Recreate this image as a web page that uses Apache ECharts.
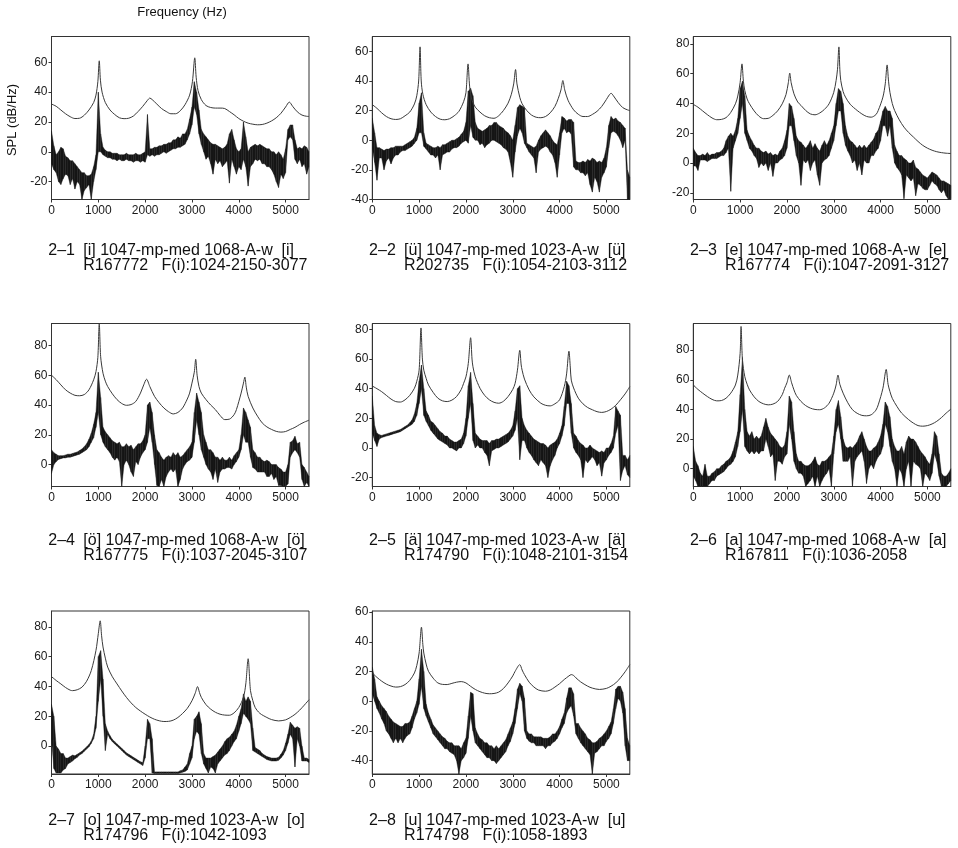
<!DOCTYPE html>
<html>
<head>
<meta charset="utf-8">
<script src="https://cdn.jsdelivr.net/npm/echarts@6/dist/echarts.min.js"></script>
<style>
  html, body { margin: 0; padding: 0; background: #fff; }
  #chart { width: 958px; height: 848px; }
</style>
</head>
<body>
<div id="chart"></div>
<script>
// ---------------------------------------------------------------------------
// Spectra of eight sung vowels (SPL in dB/Hz versus frequency in Hz).
// envN  : smooth spectral envelope, [frequency Hz, level dB] pairs.
// specN : measured spectrum, one [min dB, max dB] pair per 50 Hz bin, 0..5500 Hz.
// ---------------------------------------------------------------------------
const BIN_HZ = 50;

const panelCodes = ['2–1', '2–2', '2–3', '2–4', '2–5', '2–6', '2–7', '2–8'];
const captionLine1 = [
  '[i] 1047-mp-med 1068-A-w  [i]',
  '[ü] 1047-mp-med 1023-A-w  [ü]',
  '[e] 1047-mp-med 1068-A-w  [e]',
  '[ö] 1047-mp-med 1068-A-w  [ö]',
  '[ä] 1047-mp-med 1023-A-w  [ä]',
  '[a] 1047-mp-med 1068-A-w  [a]',
  '[o] 1047-mp-med 1023-A-w  [o]',
  '[u] 1047-mp-med 1023-A-w  [u]'
];
const captionLine2 = [
  'R167772   F(i):1024-2150-3077',
  'R202735   F(i):1054-2103-3112',
  'R167774   F(i):1047-2091-3127',
  'R167775   F(i):1037-2045-3107',
  'R174790   F(i):1048-2101-3154',
  'R167811   F(i):1036-2058',
  'R174796   F(i):1042-1093',
  'R174798   F(i):1058-1893'
];

const xTicks = [0, 1000, 2000, 3000, 4000, 5000];
const yTicks = [
  [-20, 0, 20, 40, 60],
  [-40, -20, 0, 20, 40, 60],
  [-20, 0, 20, 40, 60, 80],
  [0, 20, 40, 60, 80],
  [-20, 0, 20, 40, 60, 80],
  [0, 20, 40, 60, 80],
  [0, 20, 40, 60, 80],
  [-40, -20, 0, 20, 40, 60]
];
const yRange = [
  [-32, 77.3], [-40, 70], [-24.5, 85],
  [-14.7, 94.7], [-26, 84], [-12, 98],
  [-18.7, 90.6], [-49, 60.7]
];

// ---- envelopes ----
const env1 = [[0,32],[100,30.5],[200,28],[300,25.5],[400,23.5],[500,22.3],[600,22.5],[700,24.5],[800,28],[900,33],[950,38],[990,47],[1020,61],[1045,48],[1080,40],[1150,33],[1250,28],[1350,25],[1450,22.8],[1550,22.2],[1650,22.5],[1750,24],[1850,27],[1950,30.5],[2050,34.5],[2100,36],[2150,35],[2250,32],[2350,29],[2450,27],[2550,25.5],[2650,25.5],[2750,27.5],[2850,31.5],[2950,38],[3010,47],[3060,63],[3090,50],[3130,41],[3200,35],[3300,31],[3400,29.7],[3500,29.3],[3600,29.3],[3700,29],[3800,27],[3900,24.8],[4000,22.3],[4100,20.5],[4200,19.2],[4300,18.5],[4400,18.1],[4500,18.3],[4600,19.2],[4700,20.7],[4800,22.8],[4900,25.8],[5000,30],[5080,33.3],[5150,30.5],[5250,26.8],[5350,24.6],[5450,23.8],[5500,23.7]];
const env2 = [[0,24],[100,21.5],[200,18.5],[300,16],[400,14.5],[500,14],[600,14.5],[700,16.5],[800,19],[900,24.5],[950,30],[990,40],[1020,63],[1045,40],[1080,31],[1150,24],[1250,19],[1350,16],[1450,14.2],[1550,13.8],[1650,14.5],[1750,16.5],[1850,19.5],[1950,26],[2000,32],[2045,51.5],[2080,36],[2130,27],[2200,22.3],[2300,19],[2400,16.5],[2500,15.2],[2600,14.8],[2700,16.5],[2800,20],[2900,25],[2970,31],[3020,38],[3060,47.7],[3090,38],[3150,29],[3200,24.6],[3300,20],[3400,17],[3500,15.5],[3600,15.2],[3700,16],[3800,18.5],[3900,22.8],[3970,28],[4030,34],[4070,40.3],[4110,34],[4180,27],[4300,20.5],[4400,17.5],[4500,16],[4600,16],[4700,17.4],[4800,19.5],[4900,22.8],[5000,27.5],[5060,30.5],[5100,31.7],[5150,30],[5250,25.5],[5350,22],[5450,20.5],[5500,20]];
const env3 = [[0,39.4],[100,37.5],[200,35],[300,32.5],[400,30.3],[500,29.1],[600,29.3],[700,30.5],[800,34],[900,39.8],[950,45],[1000,54],[1040,66.6],[1070,55],[1100,48.7],[1150,43],[1200,39.8],[1300,35],[1400,31.5],[1500,29.8],[1600,30],[1700,32],[1800,35],[1900,39.8],[1980,46],[2030,54],[2060,60.4],[2090,54],[2150,46.5],[2230,41],[2300,38.7],[2400,35.3],[2500,33],[2600,32.4],[2700,33.6],[2800,36],[2900,39.8],[3000,47.5],[3050,55.4],[3080,63],[3110,78],[3130,63],[3150,55.4],[3200,48],[3250,44.3],[3350,39.5],[3500,35.3],[3600,33],[3700,31.3],[3800,30.8],[3900,32.5],[3950,35.3],[4050,44.3],[4100,53.2],[4140,65.9],[4170,55],[4200,47.5],[4250,40],[4300,35.3],[4400,29],[4500,24.1],[4600,20.5],[4700,17.5],[4800,14.5],[4900,11.9],[5000,10],[5100,8.6],[5200,7.6],[5300,7],[5400,6.6],[5500,6.4]];
const env4 = [[0,60],[100,57],[200,53.5],[300,50.2],[400,48],[500,46.5],[600,46.2],[700,47],[800,50.2],[900,56.9],[950,62.4],[990,72],[1020,94.7],[1050,72.4],[1100,61.3],[1150,56],[1200,52.4],[1300,47.5],[1400,43.6],[1500,41],[1600,39.8],[1700,40.3],[1800,42.4],[1900,48],[1970,53.5],[2030,57.3],[2100,52.4],[2200,45.8],[2300,41.5],[2400,38],[2500,35.5],[2600,34],[2700,35],[2800,38],[2900,44],[2950,48],[3000,54.7],[3050,62],[3080,70.7],[3110,60],[3150,52.4],[3200,48],[3300,43.6],[3400,40],[3500,36.9],[3600,33],[3700,30.2],[3800,30.5],[3900,33.5],[3950,36.9],[4050,48],[4100,54.7],[4130,58.7],[4160,52],[4200,45.8],[4300,38],[4400,32.5],[4500,28],[4600,25.3],[4700,23.6],[4800,22.3],[4900,21.8],[5000,22.2],[5100,23.6],[5200,25],[5300,26.9],[5400,28.5],[5500,29.8]];
const env5 = [[0,41.8],[100,40],[200,38],[300,35.5],[400,33],[500,31.3],[600,31],[700,32.5],[800,35.5],[900,40.3],[950,45],[1000,52.5],[1040,81],[1070,60],[1100,52.5],[1150,47],[1200,42.5],[1300,37.5],[1400,33.6],[1500,31.8],[1600,31.3],[1700,32.3],[1800,34.7],[1900,39.5],[1950,43.6],[2000,48],[2050,57],[2100,74.4],[2130,60],[2150,54.8],[2200,48],[2300,40.3],[2400,35.5],[2500,32.5],[2600,30.8],[2700,30.2],[2800,31.5],[2900,34.7],[3000,39.5],[3050,43.6],[3100,52.5],[3150,65.9],[3180,56],[3200,52.5],[3250,46.5],[3350,39.2],[3450,34.5],[3600,30.2],[3700,28.8],[3800,28.4],[3900,29.8],[4000,32.5],[4100,41.4],[4150,50],[4200,65.3],[4230,54],[4250,45.8],[4300,40.5],[4400,33.6],[4500,29.8],[4600,27.3],[4700,25.8],[4800,24.5],[4900,24],[5000,24.6],[5100,26.2],[5200,28.8],[5300,32.5],[5400,36.5],[5500,41.4]];
const env6 = [[0,56.5],[100,53.5],[200,51],[300,48.7],[400,46.8],[500,45.8],[600,46],[700,47.6],[800,51],[900,56.5],[950,63.2],[1000,77.8],[1020,96],[1050,73.3],[1100,62.1],[1150,57],[1200,53.2],[1300,48.5],[1400,45.4],[1500,43.8],[1600,43.1],[1700,43.6],[1800,45.4],[1900,50],[1950,54.3],[2000,58],[2050,63.2],[2100,58],[2150,53.2],[2200,49.5],[2300,45.4],[2400,42.6],[2500,40.9],[2600,40],[2700,39.8],[2800,41],[2900,44.2],[3000,51],[3050,56.5],[3090,63.2],[3130,57],[3200,51],[3300,44.5],[3400,39.8],[3500,37.4],[3600,36],[3700,35.7],[3800,36.4],[3900,39.5],[3950,43.1],[4050,54.3],[4120,67],[4160,57],[4200,52.1],[4250,47.5],[4350,42],[4450,37.5],[4600,33.1],[4700,30.8],[4800,29.1],[4900,28.7],[5000,29.1],[5100,30.2],[5200,32],[5300,34.5],[5400,37.5],[5500,40.2]];
const env7 = [[0,46.6],[100,44],[200,41.7],[300,39.3],[400,37.5],[450,37.2],[550,37.8],[650,39.5],[750,43.5],[850,50.7],[950,64.2],[1000,75.5],[1040,84],[1070,74],[1100,66.5],[1150,59],[1200,53],[1300,46.5],[1400,41.7],[1500,37],[1600,32.7],[1700,29],[1800,25.9],[1900,23.5],[2000,21.4],[2100,19.5],[2200,18],[2300,17],[2400,16.5],[2500,16.6],[2600,17.4],[2700,19.2],[2800,21.9],[2900,25.3],[3000,30.4],[3070,35.5],[3120,39.9],[3160,36],[3200,32.7],[3300,27.8],[3400,24.8],[3500,22.7],[3600,21.4],[3700,20.8],[3800,20.7],[3900,22.3],[4000,25.9],[4100,32.7],[4150,41.7],[4200,58.6],[4250,37.2],[4300,30.5],[4350,25.9],[4450,22],[4600,19.2],[4700,17.8],[4850,16.9],[5000,17.6],[5100,19.2],[5200,21.3],[5300,24.1],[5400,27.5],[5500,31.1]];
const env8 = [[0,19],[100,16],[200,13.5],[300,11.5],[400,10.2],[500,9.5],[600,9.8],[700,11.2],[800,14],[900,19],[950,24],[1000,32.4],[1050,49.8],[1080,38],[1100,32.4],[1150,25],[1200,20.1],[1300,15.5],[1400,12.3],[1500,11.3],[1600,11.2],[1700,12],[1800,12.8],[1900,13.2],[2000,12.3],[2100,10],[2200,7.9],[2300,6.4],[2400,5.4],[2500,5],[2600,5.2],[2700,6.1],[2800,8.5],[2900,12.3],[3000,17],[3050,20.1],[3150,24.6],[3200,21],[3250,17.9],[3350,12.8],[3450,9.6],[3550,7.5],[3700,6.7],[3800,7.5],[3900,9.5],[4000,11.8],[4100,14.6],[4200,17],[4250,17.9],[4300,17.3],[4350,15.7],[4450,13],[4600,10.1],[4700,8.8],[4850,7.9],[5000,8.6],[5100,10.1],[5200,12.3],[5300,15.7],[5400,19.8],[5500,24.6]];

// ---- measured spectra: [min, max] per 50 Hz bin, 10 bins per row ----
const spec1 = [
  [-8,14],[-12,4],[-14,-2],[-20,0],[-22,3],[-18,2],[-15,-3],[-16,-4],[-22,-6],[-18,-6],
  [-25,-8],[-20,-10],[-22,-12],[-32,-14],[-26,-14],[-24,-16],[-22,-16],[-32,-15],[-20,-10],[-12,-2],
  [0,40],[0,12],[-2,3],[-3,1],[-4,0],[-4,0],[-5,-1],[-5,-1],[-6,-1],[-5,-2],
  [-6,-2],[-6,-2],[-5,-1],[-6,-2],[-6,-2],[-7,-2],[-6,-1],[-6,-2],[-7,-2],[-6,-1],
  [-7,0],[-2,25],[-3,2],[-2,2],[-3,3],[-2,3],[-2,4],[-1,4],[0,5],[-1,5],
  [0,6],[1,6],[2,8],[2,8],[3,10],[3,9],[4,12],[5,12],[8,15],[12,22],
  [18,30],[30,47],[25,40],[12,28],[5,15],[0,12],[-5,10],[-3,8],[-8,6],[-15,5],
  [-5,5],[-8,4],[-6,3],[-10,2],[-8,3],[-6,5],[-21,12],[-5,15],[-10,8],[-15,2],
  [-10,0],[-12,2],[-5,20],[-10,10],[-23,0],[-10,3],[-8,4],[-5,5],[-6,4],[-5,5],
  [-8,4],[-8,3],[-10,2],[-10,2],[-12,0],[-15,0],[-20,-2],[-24,0],[-15,-2],[-18,-5],
  [-14,2],[8,15],[10,18],[8,18],[-5,8],[-8,2],[-5,3],[-10,2],[-8,4],[-15,3],[-10,0]
];
const spec2 = [
  [-5,15],[-15,5],[-27,-5],[-12,-5],[-12,-6],[-20,-7],[-14,-6],[-12,-6],[-16,-5],[-12,-5],
  [-10,-4],[-10,-4],[-8,-4],[-7,-4],[-7,-3],[-6,-2],[-5,-1],[-4,0],[-2,2],[0,8],
  [5,25],[5,32],[-4,5],[-6,-2],[-8,-3],[-10,-4],[-10,-5],[-12,-5],[-10,-4],[-20,-5],
  [-10,-3],[-9,-3],[-8,-2],[-8,-1],[-6,0],[-5,0],[-5,1],[-4,2],[-2,4],[-1,6],
  [0,12],[-2,33],[10,35],[2,30],[0,12],[0,8],[-3,7],[-2,6],[-5,7],[-3,8],
  [-2,10],[0,10],[0,12],[-1,12],[-2,10],[-3,9],[-5,8],[-6,6],[-8,5],[-15,3],
  [-25,0],[-8,10],[3,22],[8,24],[5,23],[-2,22],[-5,-2],[-8,-3],[-10,-4],[-12,-5],
  [-22,-4],[-8,0],[-6,3],[-5,5],[-4,7],[-5,5],[-8,3],[-10,0],[-15,-2],[-25,-3],
  [-10,5],[5,16],[8,15],[5,13],[6,14],[4,14],[-18,12],[-20,-14],[-20,-15],[-22,-15],
  [-22,-14],[-24,-15],[-22,-13],[-30,-14],[-35,-12],[-25,-13],[-28,-15],[-35,-14],[-25,-15],[-22,-12],
  [-18,-5],[-5,10],[5,16],[6,14],[5,15],[3,13],[0,12],[-5,10],[0,8],[-40,-20],[-40,-25]
];
const spec3 = [
  [-2,10],[-2,7],[-5,5],[2,5],[2,6],[2,5],[1,7],[2,5],[3,6],[3,6],
  [3,7],[4,7],[5,8],[5,10],[7,15],[10,18],[-19,20],[10,18],[15,22],[20,30],
  [30,50],[40,55],[20,45],[15,22],[10,18],[8,15],[5,12],[3,10],[-3,10],[0,8],
  [-2,7],[0,8],[-5,6],[0,7],[-9,5],[0,6],[0,5],[2,8],[3,10],[5,15],
  [10,22],[25,40],[25,38],[15,30],[5,18],[0,15],[-15,14],[2,12],[0,10],[2,12],
  [-5,15],[0,10],[2,13],[-8,10],[-15,8],[0,12],[2,15],[3,12],[5,15],[10,20],
  [15,25],[25,40],[35,50],[35,48],[20,40],[12,25],[8,18],[5,15],[0,14],[2,12],
  [-5,10],[0,12],[-8,10],[2,12],[0,10],[0,12],[5,14],[5,16],[8,20],[10,22],
  [15,28],[25,35],[25,38],[18,35],[25,35],[10,30],[0,12],[-3,8],[-5,5],[-8,5],
  [-24,3],[-8,2],[-10,0],[-12,0],[-10,2],[-22,-3],[-14,-4],[-15,-6],[-17,-8],[-18,-9],
  [-18,-10],[-15,-8],[-12,-6],[-14,-7],[-15,-8],[-18,-10],[-20,-12],[-18,-12],[-22,-13],[-25,-14],[-24,-15]
];
const spec4 = [
  [-6,10],[0,8],[2,7],[3.5,6],[4,6],[4.5,6],[4.5,6.5],[5,7],[5,7],[5.5,7.5],
  [6,8],[6.5,8.5],[7,9.5],[8,10.5],[9,12],[10,14],[12,17],[15,21],[18,27],[25,35],
  [35,62],[20,45],[15,25],[12,22],[10,20],[8,18],[5,16],[3,15],[5,14],[2,15],
  [-15,12],[0,12],[3,14],[0,12],[-5,13],[-8,10],[2,12],[0,14],[5,14],[8,16],
  [10,20],[15,40],[25,42],[15,35],[0,20],[-14,10],[-15,8],[-10,5],[-15,3],[-8,5],
  [-5,6],[-3,5],[-5,8],[-3,6],[-15,8],[-10,5],[-3,6],[0,8],[2,10],[3,12],
  [5,15],[15,35],[30,48],[20,42],[10,35],[5,20],[0,15],[-3,10],[-5,10],[-10,8],
  [-3,5],[-12,5],[-5,3],[-3,5],[-3,3],[-2,3],[-2,5],[-3,3],[0,6],[2,8],
  [5,10],[10,20],[20,38],[15,35],[15,30],[5,25],[-2,10],[-3,8],[-5,5],[-5,5],
  [-5,3],[-5,2],[-8,3],[-8,2],[-6,0],[-10,0],[-8,0],[-14,-2],[-14,-3],[-15,-5],
  [-15,-5],[-13,0],[5,15],[8,16],[10,19],[8,14],[5,15],[-10,0],[-15,-2],[-12,-5],[-15,-8]
];
const spec5 = [
  [10,35],[5,15],[1,10],[6,9],[7,8.5],[7.5,9],[8,9.5],[8.5,10],[9,10.5],[9.5,11],
  [10,11.5],[10.5,12],[11,12.5],[12,13.5],[13,14.5],[14,15.5],[15,17],[16,19],[18,23],[22,30],
  [30,45],[40,56],[22,40],[18,25],[15,22],[12,18],[10,17],[8,15],[6,13],[5,11],
  [4,10],[3,8],[2,8],[0,6],[0,5],[-1,4],[-2,4],[0,5],[0,6],[3,10],
  [8,20],[20,42],[30,51],[5,30],[0,10],[2,8],[0,6],[0,5],[-3,5],[-5,5],
  [-12,3],[-2,5],[-1,5],[0,6],[0,6],[1,7],[2,8],[3,9],[4,10],[6,12],
  [8,15],[12,25],[20,40],[-8,42],[5,20],[5,15],[0,12],[-3,10],[-5,8],[-8,6],
  [-10,5],[-12,4],[-8,3],[-10,3],[-12,2],[-20,0],[-12,2],[-8,3],[-5,4],[0,6],
  [3,10],[8,15],[15,28],[30,45],[30,42],[10,30],[0,10],[-3,8],[-5,5],[-8,3],
  [-20,2],[-8,0],[-10,0],[-8,2],[-6,0],[-8,-1],[-12,-2],[-10,-3],[-19,-2],[-10,-3],
  [-8,0],[-5,0],[-3,3],[0,8],[10,28],[15,25],[-22,22],[-15,-5],[-12,-5],[-18,-8],[-20,-5]
];
const spec6 = [
  [-5,15],[-8,5],[-12,2],[-12,-3],[-12,-5],[-12,3],[-12,-5],[-10,-5],[-8,-3],[-8,-2],
  [-5,0],[-4,0],[-3,2],[-2,3],[0,5],[2,6],[3,8],[5,12],[8,18],[15,25],
  [25,50],[40,75],[15,40],[12,25],[10,22],[12,25],[10,20],[12,22],[10,20],[12,22],
  [12,28],[20,34],[15,28],[8,24],[10,22],[-8,20],[5,18],[5,15],[3,14],[8,16],
  [10,25],[30,49],[20,45],[5,25],[0,10],[-3,5],[-3,5],[-5,3],[-12,2],[-10,2],
  [-8,3],[-5,5],[-12,8],[-5,3],[-12,2],[-8,5],[-5,5],[-3,6],[0,8],[-12,10],
  [10,22],[25,40],[30,46],[20,35],[5,20],[5,15],[5,14],[8,15],[-12,14],[5,16],
  [8,18],[10,22],[12,25],[5,20],[-10,15],[0,12],[3,12],[0,14],[5,15],[8,18],
  [10,22],[15,30],[30,45],[25,42],[15,35],[5,20],[0,15],[-12,12],[0,12],[-3,15],
  [-12,10],[0,18],[5,22],[-12,20],[5,20],[3,18],[2,15],[0,12],[-12,10],[-3,8],
  [-5,5],[-8,3],[-3,10],[10,25],[5,22],[-5,10],[-12,-3],[-12,-5],[-12,-5],[-10,-3],[-8,0]
];
const spec7 = [
  [5,28],[-15,20],[-18,0],[-18,-2],[-18,-5],[-16,-5],[-15,-8],[-12,-8],[-11,-7],[-10,-6],
  [-8.5,-6.5],[-7.5,-5.5],[-6,-4.5],[-5,-3.5],[-3.5,-2],[-2,-0.5],[-0.5,1],[2,3.5],[5,8],[12,20],
  [30,60],[45,64],[20,45],[-3,15],[8,10],[5,7],[3,4.5],[1.5,3],[0,1.5],[-1.5,0],
  [-3,-1.5],[-4.5,-3],[-6,-4.5],[-7,-5.5],[-8,-6.5],[-9,-7.5],[-10,-8.5],[-11,-9.5],[-12,-10.5],[-13,-11],
  [-8,0],[5,18],[5,15],[-18,5],[-18.3,-17.3],[-18.3,-17.3],[-18.3,-17.3],[-18.3,-17.3],[-18.3,-17.3],[-18.3,-17.3],
  [-18.3,-17.3],[-18.3,-17.3],[-18.3,-17.3],[-18.3,-17.3],[-18.3,-17.3],[-18,-16.5],[-17.5,-16],[-17,-14],[-16,-12],[-12,-5],
  [-8,0],[5,18],[10,20],[8,23],[-5,15],[-12,-5],[-15,-8],[-18,-8],[-14,-8],[-15,-7],
  [-18,-6],[-12,-4],[-10,-2],[-8,0],[-6,3],[-5,5],[-3,6],[0,8],[3,10],[5,14],
  [10,20],[15,25],[22,35],[20,30],[18,33],[15,30],[-3,12],[-4,-1],[-5,-2],[-6,-3],
  [-7,-5],[-8,-6],[-9,-7],[-9.5,-7.5],[-10,-8],[-10,-8],[-10,-8],[-9.5,-7.5],[-8,-5.5],[-6,-3],
  [-3,2],[2,8],[8,16],[5,14],[-14,12],[5,13],[0,12],[-10,0],[-10,-8],[-10,-8],[-11,-9]
];
const spec8 = [
  [5,23],[0,15],[-5,3],[-8,0],[-12,-3],[-15,-5],[-20,-7],[-22,-10],[-25,-12],[-28,-14],
  [-25,-15],[-28,-16],[-25,-17],[-28,-17],[-25,-15],[-23,-15],[-22,-14],[-18,-10],[-12,-5],[-8,0],
  [-2,15],[10,35],[-5,20],[-10,-2],[-14,-8],[-18,-12],[-22,-16],[-24,-18],[-26,-20],[-28,-22],
  [-30,-24],[-32,-25],[-32,-27],[-34,-28],[-35,-28],[-36,-30],[-40,-30],[-49,-30],[-40,-32],[-38,-28],
  [-35,-25],[-25,-10],[-10,6],[-20,5],[-28,-18],[-30,-22],[-32,-25],[-34,-26],[-36,-28],[-38,-28],
  [-38,-30],[-40,-30],[-40,-32],[-42,-30],[-40,-32],[-38,-30],[-36,-28],[-34,-26],[-30,-22],[-27,-18],
  [-22,-14],[-15,-5],[-5,8],[5,12],[0,10],[-20,2],[-25,-20],[-27,-22],[-28,-22],[-28,-24],
  [-30,-24],[-30,-24],[-30,-24],[-30,-25],[-32,-25],[-30,-25],[-30,-24],[-28,-22],[-27,-22],[-25,-20],
  [-22,-17],[-18,-12],[-15,-8],[-8,2],[-5,9],[-3,9],[-10,5],[-22,-15],[-25,-15],[-28,-18],
  [-30,-20],[-32,-22],[-34,-25],[-36,-26],[-49,-28],[-35,-28],[-34,-27],[-32,-25],[-30,-24],[-30,-22],
  [-27,-20],[-25,-17],[-22,-14],[-15,-5],[-5,8],[2,10],[0,10],[-8,6],[-30,-5],[-40,-25],[-40,-30]
];

const envelopes = [env1, env2, env3, env4, env5, env6, env7, env8];
const spectra = [spec1, spec2, spec3, spec4, spec5, spec6, spec7, spec8];

// ---- layout ----
const COL_LEFT = [51.5, 372.3, 693.3];
const ROW_TOP = [36.5, 323.5, 611];
const PLOT_W = 257.5;
const PLOT_H = 163;
const CAP_Y1 = [251, 541, 821];
const CAP_Y2 = [266, 556, 836];
const FONT = '"Liberation Sans", Arial, Helvetica, sans-serif';
const AXIS_COLOR = '#333';
const BAND_COLOR = '#161616';
const plainNumber = function (v) { return String(v); };

// Draws the min-max band between bin k and bin k+1 as one filled quadrilateral.
function renderBand(params, api) {
  const k = params.dataIndexInside;
  if (k >= params.dataInsideLength - 1) return null;
  const cs = params.coordSys;
  const top = cs.y, bottom = cs.y + cs.height;
  const clampY = function (p) { return [p[0], Math.min(bottom, Math.max(top, p[1]))]; };
  const f0 = api.value(0, k), f1 = api.value(0, k + 1);
  const pts = [
    api.coord([f0, api.value(1, k)]),
    api.coord([f0, api.value(2, k)]),
    api.coord([f1, api.value(2, k + 1)]),
    api.coord([f1, api.value(1, k + 1)])
  ].map(clampY);
  return {
    type: 'polygon',
    shape: { points: pts },
    style: { fill: BAND_COLOR, stroke: BAND_COLOR, lineWidth: 0.4 },
    silent: true
  };
}

const grids = [], xAxes = [], yAxes = [], series = [], graphics = [];

spectra.forEach(function (spec, i) {
  const col = i % 3, row = Math.floor(i / 3);
  grids.push({
    left: COL_LEFT[col], top: ROW_TOP[row], width: PLOT_W, height: PLOT_H,
    show: true, borderColor: AXIS_COLOR, borderWidth: 1, backgroundColor: 'transparent',
    containLabel: false, outerBoundsMode: 'none'
  });
  xAxes.push({
    type: 'value', gridIndex: i, min: 0, max: 5500,
    axisLine: { show: true, onZero: false, lineStyle: { color: AXIS_COLOR, width: 1 } },
    axisTick: { show: true, length: 3, customValues: xTicks, lineStyle: { color: AXIS_COLOR } },
    axisLabel: { customValues: xTicks, formatter: plainNumber, margin: 5, fontSize: 12, color: '#1a1a1a', fontFamily: FONT },
    splitLine: { show: false }
  });
  yAxes.push({
    type: 'value', gridIndex: i, min: yRange[i][0], max: yRange[i][1],
    axisLine: { show: true, onZero: false, lineStyle: { color: AXIS_COLOR, width: 1 } },
    axisTick: { show: true, length: 3, customValues: yTicks[i], lineStyle: { color: AXIS_COLOR } },
    axisLabel: { customValues: yTicks[i], formatter: plainNumber, margin: 4, fontSize: 12, color: '#1a1a1a', fontFamily: FONT },
    splitLine: { show: false }
  });

  // Measured spectrum as a dense min-max band
  series.push({
    type: 'custom', xAxisIndex: i, yAxisIndex: i,
    data: spec.map(function (b, k) { return [k * BIN_HZ, b[0], b[1]]; }),
    encode: { x: 0, y: [1, 2] },
    renderItem: renderBand, clip: true, silent: true, z: 2
  });
  // Smooth envelope
  series.push({
    type: 'line', xAxisIndex: i, yAxisIndex: i, data: envelopes[i],
    symbol: 'none', showSymbol: false, silent: true, clip: true, smooth: 0.3,
    lineStyle: { color: '#3a3a3a', width: 1 }, z: 3
  });

  const x0 = COL_LEFT[col] - 3.2;
  const txt = { font: '16px ' + FONT, fill: '#111', verticalAlign: 'middle', align: 'left' };
  graphics.push({ type: 'text', x: x0, y: CAP_Y1[row], silent: true,
    style: Object.assign({ text: panelCodes[i] }, txt) });
  graphics.push({ type: 'text', x: x0 + 35, y: CAP_Y1[row], silent: true,
    style: Object.assign({ text: captionLine1[i] }, txt) });
  graphics.push({ type: 'text', x: x0 + 35, y: CAP_Y2[row], silent: true,
    style: Object.assign({ text: captionLine2[i] }, txt) });
});

graphics.push({ type: 'text', x: 182, y: 12, silent: true,
  style: { text: 'Frequency (Hz)', font: '13px ' + FONT, fill: '#111', align: 'center', verticalAlign: 'middle' } });
graphics.push({ type: 'text', x: 12.5, y: 120, rotation: Math.PI / 2, silent: true,
  style: { text: 'SPL (dB/Hz)', font: '13px ' + FONT, fill: '#111', align: 'center', verticalAlign: 'middle' } });

const chart = echarts.init(document.getElementById('chart'), null, { renderer: 'canvas' });
chart.setOption({
  backgroundColor: '#fff',
  animation: false,
  grid: grids,
  xAxis: xAxes,
  yAxis: yAxes,
  series: series,
  graphic: graphics
});
</script>
</body>
</html>
